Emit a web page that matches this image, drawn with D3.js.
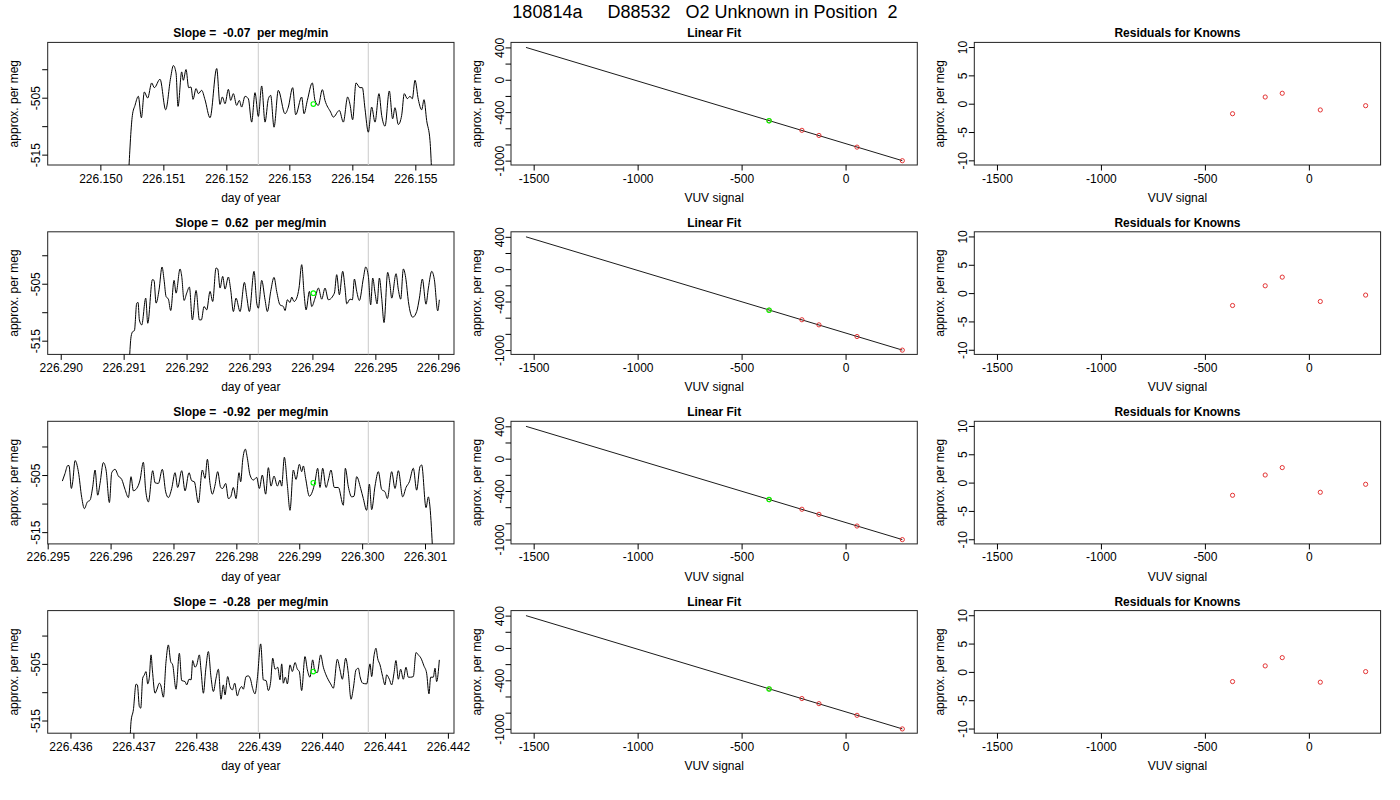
<!DOCTYPE html>
<html>
<head>
<meta charset="utf-8">
<script src="https://cdn.jsdelivr.net/npm/d3@7"></script>
<style>
  body { margin: 0; background: #fff; }
  text { font-family: "Liberation Sans", Arial, sans-serif; fill: #000; }
</style>
</head>
<body>
<div id="chart"></div>
<script>
// title and per-row labels
var mainTitle = "180814a     D88532   O2 Unknown in Position  2";
var slopes = ["-0.07", "0.62", "-0.92", "-0.28"];

// left column: per meg trace vs day of year, one pair of arrays per row
var day1 = [226.150450, 226.150508, 226.150550, 226.150603, 226.150651, 226.150698, 226.150751, 226.150815, 226.150857, 226.150947,
  226.151037, 226.151116, 226.151159, 226.151201, 226.151233, 226.151291, 226.151317, 226.151360, 226.151402, 226.151439,
  226.151471, 226.151519, 226.151556, 226.151608, 226.151661, 226.151741, 226.151847, 226.151899, 226.151937, 226.151979,
  226.152032, 226.152069, 226.152111, 226.152164, 226.152206, 226.152243, 226.152296, 226.152349, 226.152402, 226.152455,
  226.152508, 226.152561, 226.152614, 226.152667, 226.152704, 226.152757, 226.152825, 226.152931, 226.152984, 226.153053,
  226.153101, 226.153196, 226.153233, 226.153286, 226.153365, 226.153407, 226.153460, 226.153524, 226.153566, 226.153656,
  226.153698, 226.153794, 226.153857, 226.153926, 226.153963, 226.154005, 226.154058, 226.154121, 226.154159, 226.154201,
  226.154254, 226.154307, 226.154360, 226.154423, 226.154466, 226.154519, 226.154587, 226.154640, 226.154677, 226.154730,
  226.154783, 226.154825, 226.154873, 226.154915, 226.154952, 226.154995, 226.155048, 226.155101, 226.155138, 226.155180,
  226.155233, 226.155259];
var perMeg1 = [-518, -508.12, -506.35, -504.76, -508.53, -504.00, -505.06, -502.41, -503.24, -501.76,
  -507.12, -501.47, -499.35, -500.65, -506.53, -500.47, -501.94, -500.06, -503.24, -503.12,
  -505.29, -503.41, -504.29, -503.71, -505.35, -508.53, -499.88, -506.18, -504.88, -506.06,
  -503.53, -505.47, -504.29, -506.35, -505.47, -506.65, -504.76, -505.18, -509.29, -504.12,
  -508.29, -502.94, -509.29, -505.18, -504.59, -510.18, -503.71, -507.82, -506.65, -503.24,
  -508.00, -504.88, -507.82, -505.47, -502.41, -505.47, -506.35, -503.59, -505.47, -507.53,
  -508.41, -507.24, -509.29, -504.88, -506.18, -508.88, -502.41, -503.24, -503.24, -506.94,
  -511.06, -506.65, -509.29, -504.29, -508.12, -510.00, -503.82, -508.71, -506.76, -509.71,
  -508.12, -504.29, -505.18, -504.76, -505.18, -501.94, -505.35, -507.12, -505.35, -509.00,
  -512.53, -518];

var day2 = [226.291091, 226.291118, 226.291144, 226.291171, 226.291208, 226.291229, 226.291250, 226.291287, 226.291351, 226.291383,
  226.291457, 226.291483, 226.291515, 226.291563, 226.291610, 226.291642, 226.291674, 226.291711, 226.291748, 226.291801,
  226.291833, 226.291896, 226.291923, 226.291960, 226.292002, 226.292045, 226.292092, 226.292151, 226.292204, 226.292235,
  226.292278, 226.292320, 226.292373, 226.292415, 226.292468, 226.292495, 226.292532, 226.292574, 226.292611, 226.292664,
  226.292701, 226.292744, 226.292786, 226.292850, 226.292919, 226.292956, 226.292998, 226.293072, 226.293115, 226.293141,
  226.293194, 226.293247, 226.293284, 226.293337, 226.293390, 226.293432, 226.293485, 226.293538, 226.293565, 226.293602,
  226.293644, 226.293671, 226.293708, 226.293750, 226.293787, 226.293830, 226.293867, 226.293899, 226.293952, 226.293989,
  226.294042, 226.294095, 226.294148, 226.294200, 226.294253, 226.294349, 226.294386, 226.294428, 226.294481, 226.294518,
  226.294545, 226.294598, 226.294635, 226.294667, 226.294704, 226.294746, 226.294810, 226.294847, 226.294889, 226.294926,
  226.294958, 226.294996, 226.295027, 226.295064, 226.295101, 226.295138, 226.295196, 226.295233, 226.295260, 226.295329,
  226.295366, 226.295403, 226.295445, 226.295487, 226.295525, 226.295594, 226.295657, 226.295700, 226.295747, 226.295805,
  226.295843, 226.295896, 226.295938, 226.295991, 226.296017];
var perMeg2 = [-518.5, -514.29, -513.41, -513.24, -508.41, -508.29, -511.35, -512.24, -507.53, -511.94,
  -504.29, -504.41, -508.41, -506.06, -502.06, -504.29, -507.24, -507.71, -509.71, -504.41,
  -506.65, -502.41, -503.71, -507.94, -506.65, -505.59, -511.35, -506.18, -511.35, -511.35,
  -509.00, -509.59, -506.35, -508.12, -502.24, -502.41, -505.76, -503.71, -505.94, -503.82,
  -506.06, -509.88, -507.53, -509.88, -504.76, -507.24, -509.88, -502.82, -508.41, -509.29,
  -504.41, -507.82, -509.88, -506.35, -503.88, -506.35, -508.71, -509.00, -509.71, -507.82,
  -508.29, -507.35, -508.12, -507.53, -505.76, -501.65, -506.65, -509.59, -506.35, -509.00,
  -507.53, -505.76, -507.71, -505.76, -507.82, -506.65, -503.41, -506.94, -502.82, -505.76,
  -508.53, -507.71, -507.82, -504.18, -506.35, -507.94, -504.00, -502.06, -503.71, -508.71,
  -504.00, -506.65, -508.53, -504.00, -507.53, -511.82, -503.00, -505.18, -507.53, -503.24,
  -506.06, -507.71, -502.41, -504.29, -508.12, -510.88, -509.88, -507.53, -504.18, -508.59,
  -505.76, -502.82, -504.29, -509.76, -507.82];

var day3 = [226.295233, 226.295276, 226.295318, 226.295339, 226.295376, 226.295398, 226.295435, 226.295488, 226.295541, 226.295583,
  226.295631, 226.295673, 226.295716, 226.295753, 226.295795, 226.295832, 226.295885, 226.295928, 226.295981, 226.296018,
  226.296071, 226.296124, 226.296177, 226.296230, 226.296283, 226.296325, 226.296362, 226.296415, 226.296468, 226.296521,
  226.296558, 226.296601, 226.296670, 226.296707, 226.296760, 226.296823, 226.296876, 226.296919, 226.296972, 226.297025,
  226.297067, 226.297131, 226.297184, 226.297247, 226.297290, 226.297332, 226.297396, 226.297459, 226.297502, 226.297539,
  226.297581, 226.297618, 226.297661, 226.297703, 226.297751, 226.297783, 226.297830, 226.297873, 226.297910, 226.297952,
  226.297995, 226.298042, 226.298069, 226.298101, 226.298143, 226.298175, 226.298217, 226.298270, 226.298323, 226.298366,
  226.298413, 226.298466, 226.298509, 226.298551, 226.298599, 226.298652, 226.298694, 226.298721, 226.298763, 226.298811,
  226.298853, 226.298906, 226.298949, 226.299002, 226.299039, 226.299065, 226.299102, 226.299161, 226.299208, 226.299251,
  226.299293, 226.299330, 226.299373, 226.299426, 226.299463, 226.299505, 226.299558, 226.299622, 226.299701, 226.299733,
  226.299781, 226.299834, 226.299871, 226.299913, 226.299977, 226.300019, 226.300072, 226.300115, 226.300152, 226.300205,
  226.300258, 226.300311, 226.300364, 226.300401, 226.300470, 226.300523, 226.300576, 226.300645, 226.300698, 226.300751,
  226.300814, 226.300867, 226.300920, 226.300947, 226.301016, 226.301053, 226.301079, 226.301122];
var perMeg3 = [-506.06, -504.71, -503.35, -503.35, -507.35, -506.18, -502.47, -504.41, -508.94, -510.88,
  -509.71, -509.41, -507.06, -504.12, -508.53, -506.47, -502.82, -504.12, -509.82, -504.59,
  -504.00, -505.18, -505.76, -507.53, -508.94, -505.29, -507.76, -507.35, -505.88, -502.76,
  -507.65, -509.71, -504.24, -506.35, -506.47, -504.00, -507.94, -508.94, -507.35, -504.59,
  -507.18, -504.24, -507.76, -504.59, -506.00, -506.18, -509.88, -504.12, -505.59, -502.24,
  -506.47, -508.35, -506.76, -504.41, -507.18, -507.35, -506.47, -509.12, -508.82, -507.18,
  -509.12, -504.59, -506.18, -502.35, -500.47, -502.06, -505.00, -505.88, -505.41, -507.35,
  -505.00, -508.35, -503.71, -506.94, -505.18, -506.94, -505.88, -506.94, -501.88, -506.76,
  -511.18, -504.12, -505.76, -503.12, -504.41, -503.41, -505.59, -508.71, -507.94, -506.18,
  -503.82, -507.18, -503.82, -507.18, -505.88, -504.12, -507.18, -507.18, -510.29, -503.82,
  -507.06, -508.82, -508.71, -505.29, -507.35, -509.12, -511.18, -506.59, -511.06, -506.94,
  -504.41, -507.53, -507.94, -509.12, -504.41, -507.35, -504.24, -508.82, -507.18, -506.18,
  -503.82, -507.65, -503.53, -503.24, -510.71, -508.82, -510.59, -518.5];

var day4 = [226.436947, 226.436963, 226.437000, 226.437042, 226.437064, 226.437095, 226.437117, 226.437148, 226.437175, 226.437201,
  226.437228, 226.437254, 226.437281, 226.437302, 226.437344, 226.437371, 226.437413, 226.437434, 226.437477, 226.437519,
  226.437556, 226.437593, 226.437625, 226.437678, 226.437731, 226.437768, 226.437821, 226.437848, 226.437885, 226.437917,
  226.437943, 226.437980, 226.438007, 226.438049, 226.438075, 226.438113, 226.438150, 226.438192, 226.438234, 226.438272,
  226.438314, 226.438351, 226.438393, 226.438430, 226.438457, 226.438499, 226.438536, 226.438574, 226.438611, 226.438653,
  226.438685, 226.438722, 226.438748, 226.438791, 226.438828, 226.438865, 226.438891, 226.438934, 226.438971, 226.439024,
  226.439066, 226.439109, 226.439146, 226.439183, 226.439215, 226.439252, 226.439294, 226.439331, 226.439358, 226.439384,
  226.439416, 226.439448, 226.439490, 226.439527, 226.439570, 226.439607, 226.439638, 226.439675, 226.439728, 226.439766,
  226.439808, 226.439850, 226.439887, 226.439924, 226.439977, 226.440020, 226.440062, 226.440099, 226.440136, 226.440179,
  226.440242, 226.440285, 226.440322, 226.440375, 226.440417, 226.440460, 226.440497, 226.440539, 226.440576, 226.440603,
  226.440645, 226.440709, 226.440762, 226.440788, 226.440825, 226.440857, 226.440883, 226.440921, 226.440963, 226.441000,
  226.441026, 226.441069, 226.441106, 226.441143, 226.441174, 226.441212, 226.441249, 226.441291, 226.441334, 226.441371,
  226.441408, 226.441450, 226.441493, 226.441530, 226.441572, 226.441619, 226.441662, 226.441699, 226.441726, 226.441768,
  226.441795, 226.441821, 226.441864];
var perMeg4 = [-518.5, -515.18, -513.12, -508.59, -508.71, -512.53, -512.82, -507.53, -506.94, -506.35,
  -508.53, -507.35, -503.41, -506.06, -510.18, -509.59, -508.41, -508.71, -510.88, -504.59,
  -501.65, -504.59, -505.18, -509.47, -503.12, -507.94, -508.12, -508.71, -507.71, -507.82,
  -504.41, -505.59, -505.18, -503.41, -506.06, -510.18, -506.06, -502.82, -507.35, -509.88,
  -507.53, -505.94, -511.24, -508.71, -510.47, -507.24, -509.00, -509.59, -508.41, -510.65,
  -509.59, -509.00, -509.47, -507.24, -507.12, -507.82, -509.12, -510.29, -507.53, -501.47,
  -507.82, -507.94, -509.71, -508.12, -504.00, -505.94, -505.59, -507.82, -505.00, -508.41,
  -507.35, -508.53, -505.18, -506.35, -504.76, -505.94, -506.35, -509.71, -503.71, -506.06,
  -507.35, -504.29, -506.35, -506.53, -503.41, -505.59, -506.94, -507.82, -508.53, -509.29,
  -504.18, -506.06, -507.71, -504.00, -506.65, -511.24, -509.29, -506.06, -505.76, -507.24,
  -508.41, -508.53, -505.00, -507.24, -503.59, -502.24, -504.00, -505.18, -507.24, -508.71,
  -506.94, -507.71, -508.71, -506.65, -504.41, -507.71, -505.94, -507.71, -505.59, -507.35,
  -507.35, -507.24, -503.00, -503.41, -504.00, -505.35, -506.65, -510.29, -507.35, -507.35,
  -505.76, -508.12, -504.29];

var dayRanges = [[226.149164, 226.155614], [226.289793, 226.296250], [226.295000, 226.301461], [226.435638, 226.442097]];
var perMegRanges = [[-516.82, -495.29], [-517.41, -495.88], [-517.06, -495.59], [-517.24, -495.59]];
var dayTicks = [
  [226.150, 226.151, 226.152, 226.153, 226.154, 226.155],
  [226.290, 226.291, 226.292, 226.293, 226.294, 226.295, 226.296],
  [226.295, 226.296, 226.297, 226.298, 226.299, 226.300, 226.301],
  [226.436, 226.437, 226.438, 226.439, 226.440, 226.441, 226.442]];
var windowLines = [[226.152508, 226.154254], [226.293141, 226.294889], [226.298350, 226.300099], [226.438987, 226.440735]];
var unknownDay = [226.153381, 226.294015, 226.299224, 226.439861];
var unknownPerMeg = [-506.12, -506.65, -506.35, -506.35];
var perMegTicks = [-515, -510, -505, -500];
var perMegLabels = [-515, -505];

// middle column: linear fit of the knowns
var knownVUV = [-367, -210, -128, 55, 273];
var knownPerMeg = [-507, -625.5, -688.5, -833, -1001];
var unknownVUV = -368;
var fitVUV = [-1537, 273];
var fitPerMeg = [400, -1000.6];
var vuvRange = [-1609, 345];
var fitRange = [-1054, 462];
var vuvTicks = [-1500, -1000, -500, 0];
var fitTicks = [-1000, -800, -600, -400, -200, 0, 200, 400];
var fitLabels = [-1000, -400, 0, 400];

// right column: residuals for knowns, one array per row
var resid1 = [-1.77, 1.18, 1.84, -1.10, -0.35];
var resid2 = [-2.19, 1.29, 2.82, -1.48, -0.35];
var resid3 = [-2.24, 1.34, 2.65, -1.71, -0.30];
var resid4 = [-1.71, 1.06, 2.52, -1.82, 0.05];
var residRange = [-10.82, 10.82];
var residTicks = [-10, -5, 0, 5, 10];

var days = [day1, day2, day3, day4];
var perMegs = [perMeg1, perMeg2, perMeg3, perMeg4];
var resids = [resid1, resid2, resid3, resid4];

var width = 1400, height = 800;
var colLeft = [47.7, 511, 974.3]; // left edge of the plot boxes
var rowTop = [42.4, 231.8, 421.3, 610.6];
var boxW = 406.3, boxH = 122.6;

var svg = d3.select("#chart").append("svg")
  .attr("width", width)
  .attr("height", height);
svg.append("rect").attr("width", width).attr("height", height).attr("fill", "#fff");

svg.append("text")
  .attr("x", 705).attr("y", 18.3)
  .attr("text-anchor", "middle")
  .style("font-size", "18px")
  .style("white-space", "pre")
  .attr("xml:space", "preserve")
  .text(mainTitle);

// shared bits for every panel: box, titles, axes
function panel(px, py, id, title, xlab) {
  var g = svg.append("g").attr("transform", "translate(" + px + "," + py + ")");
  svg.append("clipPath").attr("id", id)
    .append("rect").attr("x", px).attr("y", py).attr("width", boxW).attr("height", boxH);
  g.append("text")
    .attr("x", boxW / 2).attr("y", -5)
    .attr("text-anchor", "middle")
    .style("font-size", "12px").style("font-weight", "bold")
    .style("white-space", "pre")
    .attr("xml:space", "preserve")
    .text(title);
  g.append("text")
    .attr("x", boxW / 2).attr("y", boxH + 37)
    .attr("text-anchor", "middle")
    .style("font-size", "12px")
    .text(xlab);
  g.append("text")
    .attr("transform", "translate(-30," + (boxH / 2) + ") rotate(-90)")
    .attr("text-anchor", "middle")
    .style("font-size", "12px")
    .text("approx. per meg");
  return g;
}

function bottomAxis(g, x, ticks, fmt) {
  var ax = g.append("g")
    .attr("transform", "translate(0," + boxH + ")")
    .call(d3.axisBottom(x).tickValues(ticks).tickSize(5.5).tickPadding(3.5).tickFormat(fmt));
  ax.select(".domain").remove();
  ax.selectAll("line").attr("stroke", "#000");
  ax.selectAll("text").style("font-size", "12px").style("font-family", "'Liberation Sans', Arial, sans-serif");
}

function leftAxis(g, y, ticks, labels) {
  var ax = g.append("g")
    .call(d3.axisLeft(y).tickValues(ticks).tickSize(5.5)
      .tickFormat(function(d) { return labels.indexOf(d) >= 0 ? String(d) : ""; }));
  ax.select(".domain").remove();
  ax.selectAll("line").attr("stroke", "#000");
  ax.selectAll("text")
    .attr("dy", null)
    .attr("x", 0).attr("y", -7.5)
    .attr("transform", "rotate(-90)")
    .attr("text-anchor", "middle")
    .style("font-size", "12px").style("font-family", "'Liberation Sans', Arial, sans-serif");
}

function box(g) {
  g.append("rect").attr("width", boxW).attr("height", boxH)
    .attr("fill", "none").attr("stroke", "#222").attr("stroke-width", 1);
}

for (var r = 0; r < 4; r++) {
  // left: trace
  var g1 = panel(colLeft[0], rowTop[r], "clip" + r, "Slope =  " + slopes[r] + "  per meg/min", "day of year");
  var x1 = d3.scaleLinear().domain(dayRanges[r]).range([0, boxW]);
  var y1 = d3.scaleLinear().domain(perMegRanges[r]).range([boxH, 0]);
  var inner = svg.append("g").attr("clip-path", "url(#clip" + r + ")")
    .append("g").attr("transform", "translate(" + colLeft[0] + "," + rowTop[r] + ")");
  inner.selectAll(".win").data(windowLines[r]).enter().append("line")
    .attr("x1", function(d) { return x1(d); }).attr("x2", function(d) { return x1(d); })
    .attr("y1", 0).attr("y2", boxH)
    .attr("stroke", "#d3d3d3").attr("stroke-width", 1.2);
  var pts = d3.zip(days[r], perMegs[r]);
  inner.append("path").datum(pts)
    .attr("fill", "none").attr("stroke", "#000").attr("stroke-width", 1)
    .attr("d", d3.line().curve(d3.curveMonotoneX)
      .x(function(d) { return x1(d[0]); }).y(function(d) { return y1(d[1]); }));
  inner.append("circle")
    .attr("cx", x1(unknownDay[r])).attr("cy", y1(unknownPerMeg[r])).attr("r", 2.3)
    .attr("fill", "none").attr("stroke", "#00ff00").attr("stroke-width", 1.1);
  box(g1);
  bottomAxis(g1, x1, dayTicks[r], function(d) { return d.toFixed(3); });
  leftAxis(g1, y1, perMegTicks, perMegLabels);

  // middle: linear fit
  var g2 = panel(colLeft[1], rowTop[r], "clipB" + r, "Linear Fit", "VUV signal");
  var x2 = d3.scaleLinear().domain(vuvRange).range([0, boxW]);
  var y2 = d3.scaleLinear().domain(fitRange).range([boxH, 0]);
  g2.append("path").datum(d3.zip(fitVUV, fitPerMeg))
    .attr("fill", "none").attr("stroke", "#000").attr("stroke-width", 0.9)
    .attr("d", d3.line().x(function(d) { return x2(d[0]); }).y(function(d) { return y2(d[1]); }));
  g2.selectAll(".known").data(d3.zip(knownVUV, knownPerMeg)).enter().append("circle")
    .attr("cx", function(d) { return x2(d[0]); }).attr("cy", function(d) { return y2(d[1]); })
    .attr("r", 2.1).attr("fill", "none").attr("stroke", "#e02020").attr("stroke-width", 0.9);
  g2.append("circle")
    .attr("cx", x2(unknownVUV)).attr("cy", y2(unknownPerMeg[r])).attr("r", 2.2)
    .attr("fill", "none").attr("stroke", "#00ff00").attr("stroke-width", 1.1);
  box(g2);
  bottomAxis(g2, x2, vuvTicks, String);
  leftAxis(g2, y2, fitTicks, fitLabels);

  // right: residuals
  var g3 = panel(colLeft[2], rowTop[r], "clipC" + r, "Residuals for Knowns", "VUV signal");
  var x3 = d3.scaleLinear().domain(vuvRange).range([0, boxW]);
  var y3 = d3.scaleLinear().domain(residRange).range([boxH, 0]);
  g3.selectAll(".res").data(d3.zip(knownVUV, resids[r])).enter().append("circle")
    .attr("cx", function(d) { return x3(d[0]); }).attr("cy", function(d) { return y3(d[1]); })
    .attr("r", 2.1).attr("fill", "none").attr("stroke", "#e02020").attr("stroke-width", 0.9);
  box(g3);
  bottomAxis(g3, x3, vuvTicks, String);
  leftAxis(g3, y3, residTicks, residTicks);
}
</script>
</body>
</html>
